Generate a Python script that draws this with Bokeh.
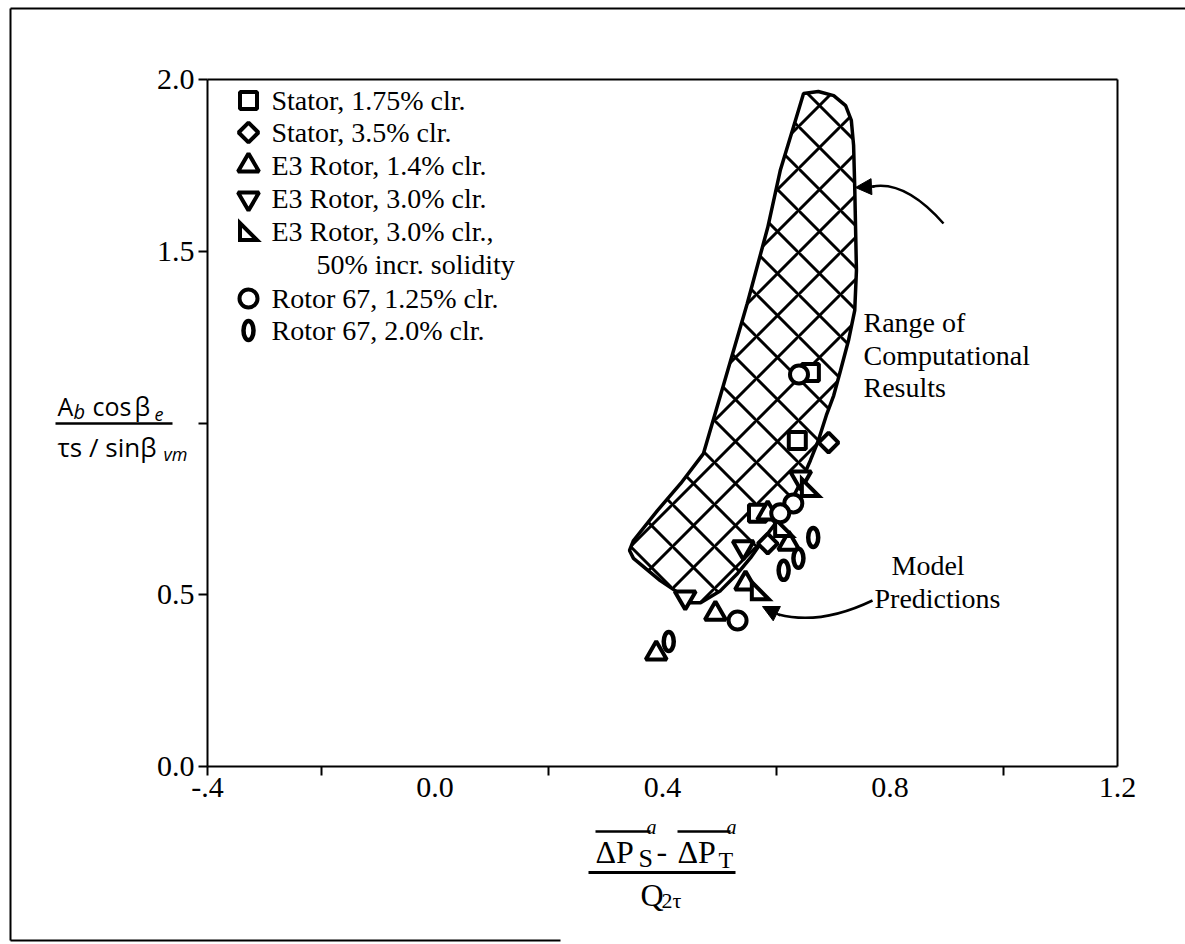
import math
from bokeh.plotting import figure
from bokeh.models import Range1d, FixedTicker, Label, Arrow, NormalHead, LinearAxis
from bokeh.embed import file_html
from bokeh.resources import INLINE

# ---------------- data ----------------
x_ticks = [-0.4, 0.0, 0.4, 0.8, 1.2]
x_tick_labels = ["-.4", "0.0", "0.4", "0.8", "1.2"]
x_minor_ticks = [-0.4, -0.2, 0.2, 0.6, 1.0]
y_ticks = [0.0, 0.5, 1.0, 1.5, 2.0]
y_tick_labels = ["0.0", "0.5", "", "1.5", "2.0"]
x_bounds = (-0.4, 1.2)
y_bounds = (0.0, 2.0)

legend_labels = [
    "Stator, 1.75% clr.",
    "Stator, 3.5% clr.",
    "E3 Rotor, 1.4% clr.",
    "E3 Rotor, 3.0% clr.",
    "E3 Rotor, 3.0% clr.,",
    "Rotor 67, 1.25% clr.",
    "Rotor 67, 2.0% clr.",
]
legend_extra_line = "50% incr. solidity"

stator_175_x = [0.660, 0.637, 0.567]
stator_175_y = [1.147, 0.949, 0.737]
stator_35_x = [0.692, 0.585]
stator_35_y = [0.943, 0.649]
e3_14_x = [0.389, 0.493, 0.546, 0.585, 0.622]
e3_14_y = [0.329, 0.445, 0.533, 0.737, 0.649]
e3_30_x = [0.440, 0.542, 0.643]
e3_30_y = [0.492, 0.638, 0.841]
e3_30s_x = [0.572, 0.613, 0.660]
e3_30s_y = [0.512, 0.696, 0.812]
r67_125_x = [0.532, 0.630, 0.640, 0.607]
r67_125_y = [0.425, 0.766, 1.141, 0.737]
r67_20_x = [0.411, 0.613, 0.639, 0.665]
r67_20_y = [0.364, 0.571, 0.606, 0.667]

# range of computational results (outline of hatched region)
region_x = [0.648, 0.674, 0.701, 0.722, 0.732, 0.736, 0.738, 0.741, 0.738, 0.727,
            0.713, 0.701, 0.688, 0.674, 0.660, 0.643, 0.620, 0.585, 0.555, 0.532,
            0.502, 0.467, 0.449, 0.432, 0.396, 0.349, 0.342, 0.349, 0.391, 0.432,
            0.472, 0.507, 0.549, 0.585, 0.607, 0.630]
region_y = [1.959, 1.965, 1.953, 1.924, 1.881, 1.808, 1.686, 1.444, 1.328, 1.240,
            1.153, 1.080, 1.022, 0.949, 0.891, 0.827, 0.754, 0.678, 0.608, 0.562,
            0.512, 0.477, 0.477, 0.501, 0.541, 0.606, 0.629, 0.658, 0.745, 0.824,
            0.911, 1.109, 1.348, 1.569, 1.735, 1.860]

# ---------------- layout ----------------
W, H = 1185, 944
AXL, AXR = 207, 1117   # page px of x = -0.4 and x = 1.2
AXB, AXT = 766, 79     # page px of y = 0.0 and y = 2.0
SX = (x_bounds[1] - x_bounds[0]) / (AXR - AXL)
SY = (y_bounds[1] - y_bounds[0]) / (AXB - AXT)


def dx(px):
    return x_bounds[0] + (px - AXL) * SX


def dy(py):
    return y_bounds[0] + (AXB - py) * SY


SERIF = "Liberation Serif"
SANS = "Open Sans"

p = figure(width=W, height=H, x_range=Range1d(dx(0), dx(W)), y_range=Range1d(dy(H), dy(0)),
           output_backend="svg", toolbar_location=None,
           x_axis_location=None, y_axis_location=None,
           min_border_left=0, min_border_right=0, min_border_top=0, min_border_bottom=0)
p.background_fill_color = "white"
p.border_fill_color = "white"
p.outline_line_color = None
for g in p.grid:
    g.visible = False


def make_axis(loc, bounds, ticks, minor, labels, tick_out, minor_out, standoff):
    ax = LinearAxis(fixed_location=loc, bounds=bounds,
                    ticker=FixedTicker(ticks=ticks, minor_ticks=minor))
    ax.axis_line_width = 2
    ax.axis_line_color = "black"
    ax.major_tick_line_width = 2
    ax.minor_tick_line_width = 2
    ax.major_tick_line_color = "black"
    ax.minor_tick_line_color = "black"
    ax.major_tick_in = 0
    ax.minor_tick_in = 0
    ax.major_tick_out = tick_out
    ax.minor_tick_out = minor_out
    ax.major_label_text_font = SERIF
    ax.major_label_text_font_size = "30px"
    ax.major_label_text_color = "black"
    ax.major_label_standoff = standoff
    if labels is not None:
        ax.major_label_overrides = dict(zip(ticks, labels))
    return ax


p.add_layout(make_axis(y_bounds[0], x_bounds, x_ticks, x_minor_ticks, x_tick_labels, 0, 9, 2), "below")
p.add_layout(make_axis(x_bounds[0], y_bounds, y_ticks, [], y_tick_labels, 9, 0, 4), "left")
top_ax = make_axis(y_bounds[1], x_bounds, [], [], None, 0, 0, 0)
top_ax.major_label_text_font_size = "0px"
p.add_layout(top_ax, "above")
right_ax = make_axis(x_bounds[1], y_bounds, [], [], None, 0, 0, 0)
right_ax.major_label_text_font_size = "0px"
p.add_layout(right_ax, "right")


def seg(px0, py0, px1, py1, w=2.0):
    p.add_layout(Arrow(end=None, x_start=dx(px0), y_start=dy(py0), x_end=dx(px1),
                       y_end=dy(py1), line_width=w, line_color="black"))


# outer frame of the figure
seg(10, 8, 1200, 8)
seg(10, 8, 10, 940)
seg(10, 940, 560, 940)

# hatched region
p.patch(region_x, region_y, fill_color="white", line_color="black", line_width=3.5,
        hatch_pattern="diagonal_cross", hatch_scale=42, hatch_weight=3, hatch_color="black")

MK = dict(fill_color="white", line_color="black", line_width=4)


def draw_square(xs, ys):
    p.scatter(xs, ys, marker="square", size=17, **MK)


def draw_diamond(xs, ys):
    p.scatter(xs, ys, marker="square", angle=math.pi / 4, size=14, **MK)


def draw_tri(xs, ys):
    p.scatter(xs, ys, marker="triangle", size=21, **MK)


def draw_itri(xs, ys):
    p.scatter(xs, ys, marker="inverted_triangle", size=21, **MK)


def draw_rtri(xs, ys, h=8.5):
    pxs = [[x - h * SX, x - h * SX, x + h * SX] for x in xs]
    pys = [[y + h * SY, y - h * SY, y - h * SY] for y in ys]
    p.patches(pxs, pys, fill_color="white", line_color="black", line_width=4,
              line_join="miter")


def draw_circle(xs, ys):
    p.scatter(xs, ys, marker="circle", size=18, **MK)


def draw_oval(xs, ys):
    p.ellipse(xs, ys, width=10, height=19, width_units="screen", height_units="screen",
              fill_color="white", line_color="black", line_width=4.5)


draw_square(stator_175_x, stator_175_y)
draw_diamond(stator_35_x, stator_35_y)
draw_tri(e3_14_x, e3_14_y)
draw_itri(e3_30_x, e3_30_y)
draw_rtri(e3_30s_x, e3_30s_y)
draw_circle(r67_125_x, r67_125_y)
draw_oval(r67_20_x, r67_20_y)


def lab(px, py, text, size, font=SERIF, style="normal", align="left"):
    p.add_layout(Label(x=dx(px), y=dy(py), text=text, text_font=font,
                       text_font_size=f"{size}px", text_font_style=style,
                       text_align=align, text_baseline="middle", text_color="black"))


# ---------------- legend (manual) ----------------
leg_mx = 248
leg_tx = 271
leg_rows = [100, 132, 165, 198, 231, 298, 330]
drawers = [draw_square, draw_diamond, draw_tri, draw_itri, draw_rtri, draw_circle, draw_oval]
for row, fn, text in zip(leg_rows, drawers, legend_labels):
    fn([dx(leg_mx)], [dy(row)])
    lab(leg_tx, row, text, 28)
lab(316, 264, legend_extra_line, 28)

# annotations
lab(863, 322, "Range of", 28)
lab(863, 355, "Computational", 28)
lab(863, 387, "Results", 28)
lab(891, 565, "Model", 28)
lab(874, 598, "Predictions", 28)

p.quadratic(x0=[dx(943)], y0=[dy(223)], x1=[dx(872)], y1=[dy(186)],
            cx=[dx(905)], cy=[dy(180)], line_width=2.5, line_color="black")
p.add_layout(Arrow(end=NormalHead(size=16, fill_color="black", line_color="black"),
                   x_start=dx(874), y_start=dy(186), x_end=dx(855), y_end=dy(187),
                   line_width=2.5, line_color="black"))
p.quadratic(x0=[dx(872)], y0=[dy(600)], x1=[dx(778)], y1=[dy(614)],
            cx=[dx(820)], cy=[dy(625)], line_width=2.5, line_color="black")
p.add_layout(Arrow(end=NormalHead(size=16, fill_color="black", line_color="black"),
                   x_start=dx(780), y_start=dy(615), x_end=dx(762), y_end=dy(606),
                   line_width=2.5, line_color="black"))

# y-axis label (fraction)
lab(57, 405, "A", 25, font=SANS)
lab(73, 411, "b", 20, font=SANS, style="italic")
lab(92, 405, "cos", 25, font=SANS)
lab(134, 405, "β", 25, font=SANS)
lab(154, 414, "e", 18, font=SANS, style="italic")
seg(55, 423, 172, 423, 2.5)
lab(57, 446, "τs / sinβ", 26, font=SANS)
lab(163, 453, "vm", 18, font=SANS, style="italic")

# x-axis label (fraction)
lab(595, 851, "ΔP", 32)
lab(638, 858, "S", 26)
lab(656, 851, "-", 32)
lab(677, 851, "ΔP", 32)
lab(718, 859, "T", 24)
seg(595, 831, 650, 831, 2.5)
seg(677, 831, 730, 831, 2.5)
lab(646, 826, "a", 20, style="italic")
lab(726, 826, "a", 20, style="italic")
seg(588, 872, 735, 872, 3)
lab(640, 894, "Q", 32)
lab(661, 900, "2τ", 22)

open("out.html", "w").write(file_html(p, INLINE))
